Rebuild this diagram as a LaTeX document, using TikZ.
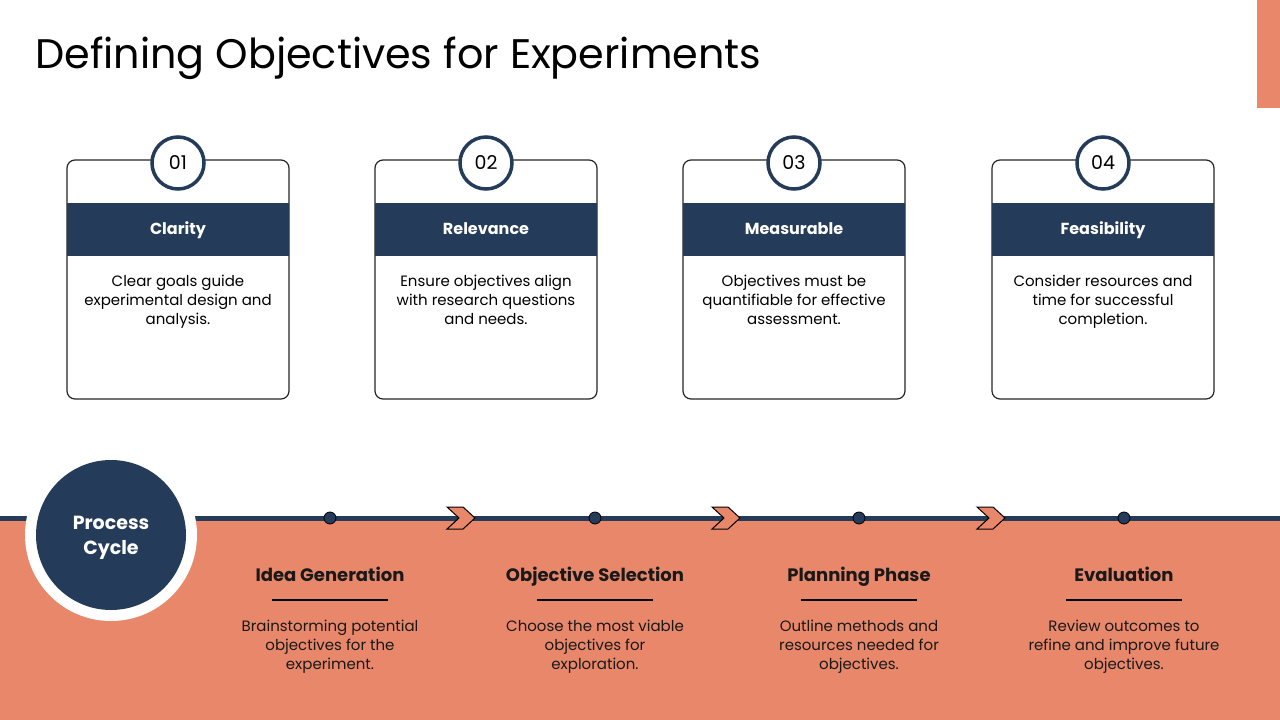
\documentclass[tikz,border=0pt]{standalone}
\usepackage{fontspec}
\setmainfont{Poppins}
\definecolor{navy}{HTML}{243B5A}
\definecolor{coral}{HTML}{E8876A}
\begin{document}
\begin{tikzpicture}[x=1pt,y=-1pt,
  card/.style={draw=black!85,line width=1.2pt,rounded corners=8pt,fill=white},
  bar/.style={fill=navy,draw=none},
  numcirc/.style={circle,draw=navy,line width=3.5pt,fill=white,minimum size=52pt,inner sep=0pt,font=\fontsize{19}{22}\selectfont,text=black},
  headtxt/.style={anchor=base,inner sep=0pt,font=\fontsize{16}{19}\selectfont\bfseries,text=white},
  bodytxt/.style={align=center,font=\fontsize{15}{19}\selectfont,text=black},
  dotnode/.style={circle,fill=navy,draw=black,line width=0.8pt,minimum size=12pt,inner sep=0pt},
  chev/.style={fill=coral,draw=black,line width=1pt,line join=miter},
  steptitle/.style={anchor=base,inner sep=0pt,font=\fontsize{18}{21}\selectfont\bfseries,text=black!90},
  stepbody/.style={align=center,font=\fontsize{15}{19}\selectfont,text=black!90}]
\useasboundingbox (0,0) rectangle (1280,720);
\fill[white] (0,0) rectangle (1280,720);
% top right accent
\fill[coral] (1257,0) rectangle (1280,108);
% title
\node[anchor=base west,inner sep=0pt,font=\fontsize{41.3}{48}\selectfont] (title) at (35,68) {Defining Objectives for Experiments};
% cards
\foreach \i/\x/\num/\head/\body in {
  1/67/01/Clarity/{Clear goals guide\\experimental design and\\analysis.},
  2/375/02/Relevance/{Ensure objectives align\\with research questions\\and needs.},
  3/683/03/Measurable/{Objectives must be\\quantifiable for effective\\assessment.},
  4/992/04/Feasibility/{Consider resources and\\time for successful\\completion.}}{
  \draw[card] (\x,160) rectangle ++(222,239);
  \fill[bar] (\x,203) rectangle ++(222,53);
  \node[headtxt] (h\i) at (\x+111,234) {\head};
  \node[numcirc] (n\i) at (\x+111,163) {\num};
  \node[bodytxt,anchor=north] (b\i) at (\x+111,272) {\body};
}
% bottom band
\fill[coral] (0,518) rectangle (1280,720);
\draw[navy,line width=5pt] (0,518) -- (1280,518);
% chevrons
\foreach \c in {447,712,977}{
  \draw[chev] (\c,507) -- (\c+16,507) -- (\c+28,518) -- (\c+16,529) -- (\c,529) -- (\c+12,518) -- cycle;
}
% process cycle circle
\fill[white] (111,535) circle (86);
\node[circle,fill=navy,minimum size=150pt,inner sep=0pt] (pc) at (111,535) {};
\node[align=center,text=white,font=\fontsize{19}{25}\selectfont\bfseries] (pct) at (111,538) {Process\\Cycle};
% steps
\foreach \i/\x/\t/\b in {
  1/330/Idea Generation/{Brainstorming potential\\objectives for the\\experiment.},
  2/595/Objective Selection/{Choose the most viable\\objectives for\\exploration.},
  3/859/Planning Phase/{Outline methods and\\resources needed for\\objectives.},
  4/1124/Evaluation/{Review outcomes to\\refine and improve future\\objectives.}}{
  \node[dotnode] (d\i) at (\x,518) {};
  \node[steptitle] (t\i) at (\x,581) {\t};
  \draw[black,line width=1.1pt] (\x-58,600) -- (\x+58,600);
  \node[stepbody,anchor=north] (s\i) at (\x,617) {\b};
}
\end{tikzpicture}
\end{document}
